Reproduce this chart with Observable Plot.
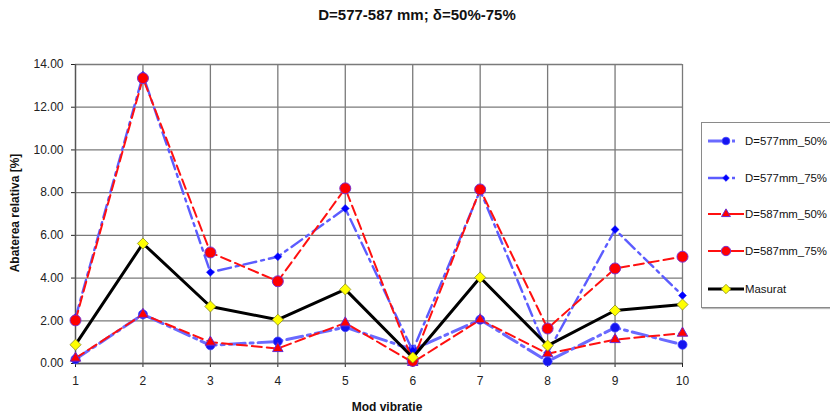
<!DOCTYPE html>
<html>
<head>
<meta charset="utf-8">
<script src="https://cdn.jsdelivr.net/npm/d3@7"></script>
<script src="https://cdn.jsdelivr.net/npm/@observablehq/plot@0.6"></script>
<style>
  html, body { margin: 0; padding: 0; background: #fff; overflow: hidden; }
  #wrap { position: relative; width: 830px; height: 416px; overflow: hidden; font-family: "Liberation Sans", Arial, sans-serif; }
  #title { position: absolute; left: 0; width: 834px; top: 6px; text-align: center; font-weight: bold; font-size: 15px; color: #111; }
  #xlab { position: absolute; left: 0; width: 774px; top: 400px; text-align: center; font-weight: bold; font-size: 12px; color: #111; }
  #ylab { position: absolute; left: 15px; top: 213px; transform: translate(-50%, -50%) rotate(-90deg); white-space: nowrap; font-weight: bold; font-size: 12px; color: #111; }
  #legend { position: absolute; left: 701px; top: 122px; width: 150px; height: 184px; border: 1px solid #8a8a8a; background: #fff; box-shadow: 1px 1px 1px #bbb; }
  .lrow { position: absolute; left: 6px; height: 14px; display: flex; align-items: center; font-size: 11.4px; color: #111; white-space: nowrap; }
  .lrow svg { margin-right: 1px; }
</style>
</head>
<body>
<div id="wrap">
  <div id="chart"></div>
  <div id="title">D=577-587 mm; δ=50%-75%</div>
  <div id="xlab">Mod vibratie</div>
  <div id="ylab">Abaterea relativa [%]</div>
  <div id="legend"></div>
</div>
<script>
const modes = [1, 2, 3, 4, 5, 6, 7, 8, 9, 10];
const yTicks = [0, 2, 4, 6, 8, 10, 12, 14];
const seriesNames = ["D=577mm_50%", "D=577mm_75%", "D=587mm_50%", "D=587mm_75%", "Masurat"];
const d577_50 = [0.20, 2.30, 0.85, 1.03, 1.70, 0.65, 2.05, 0.10, 1.68, 0.88];
const d577_75 = [2.15, 13.50, 4.27, 5.00, 7.26, 0.60, 8.10, 0.50, 6.27, 3.18];
const d587_50 = [0.25, 2.30, 1.00, 0.70, 1.90, 0.05, 2.05, 0.46, 1.12, 1.42];
const d587_75 = [2.02, 13.36, 5.20, 3.85, 8.20, 0.12, 8.15, 1.64, 4.45, 5.00];
const masurat = [0.88, 5.62, 2.67, 2.05, 3.47, 0.28, 4.03, 0.84, 2.48, 2.76];

const styles = [
  {line: {stroke: "#6a6aff", strokeWidth: 3, strokeDasharray: "16,5,3,5"}, dot: {symbol: "circle", r: 4.5, fill: "#1515f0", stroke: "#4040ff", strokeWidth: 0.8}},
  {line: {stroke: "#5c5cff", strokeWidth: 2.4, strokeDasharray: "13,5,3,5"}, dot: {symbol: "diamond2", r: 3.6, fill: "#0000ff", stroke: "#2020ff", strokeWidth: 0.5}},
  {line: {stroke: "#ff1010", strokeWidth: 2, strokeDasharray: "10,5"}, dot: {symbol: "triangle2", r: 5, fill: "#ff0000", stroke: "#6a2ad0", strokeWidth: 1}},
  {line: {stroke: "#ff1010", strokeWidth: 2, strokeDasharray: "10,5"}, dot: {symbol: "circle", r: 5.5, fill: "#ff0000", stroke: "#7a30d0", strokeWidth: 1}},
  {line: {stroke: "#000000", strokeWidth: 3}, dot: {symbol: "diamond2", r: 5, fill: "#ffff00", stroke: "#8a8a20", strokeWidth: 0.8}}
];
const seriesValues = [d577_50, d577_75, d587_50, d587_75, masurat];

const marks = [
  Plot.gridX(modes, {stroke: "#7a7a7a", strokeOpacity: 1, strokeWidth: 1.3}),
  Plot.gridY(yTicks, {stroke: "#7a7a7a", strokeOpacity: 1, strokeWidth: 1.3}),
  Plot.ruleX([1], {stroke: "#555", strokeWidth: 1.3}),
  Plot.ruleY([0], {stroke: "#555", strokeWidth: 1.3})
];
seriesValues.forEach((vals, i) => {
  const data = modes.map((m, j) => ({mode: m, value: vals[j]}));
  marks.push(Plot.line(data, {x: "mode", y: "value", ...styles[i].line}));
  marks.push(Plot.dot(data, {x: "mode", y: "value", ...styles[i].dot}));
});

const chart = Plot.plot({
  width: 830,
  height: 416,
  marginLeft: 75,
  marginRight: 148,
  marginTop: 64,
  marginBottom: 53,
  style: {fontFamily: "'Liberation Sans', Arial, sans-serif", fontSize: "12px", color: "#222", background: "#fff"},
  x: {domain: [1, 10], ticks: modes, tickFormat: d => String(d), tickSize: 4, tickPadding: 9, label: null},
  y: {domain: [0, 14], ticks: yTicks, tickFormat: d => d.toFixed(2), tickSize: 4, tickPadding: 8, label: null},
  marks
});
document.getElementById("chart").appendChild(chart);

// legend
const legend = document.getElementById("legend");
const rowTops = [11, 48, 84, 121, 159];
seriesNames.forEach((name, i) => {
  const row = document.createElement("div");
  row.className = "lrow";
  row.style.top = rowTops[i] + "px";
  const svg = d3.create("svg").attr("width", 36).attr("height", 14);
  const st = styles[i];
  svg.append("line").attr("x1", 0).attr("x2", 36).attr("y1", 7).attr("y2", 7)
    .attr("stroke", st.line.stroke).attr("stroke-width", st.line.strokeWidth)
    .attr("stroke-dasharray", i < 2 ? "17,7,3,9" : (i < 4 ? "13,3,20" : null));
  const sym = {circle: d3.symbolCircle, diamond2: d3.symbolDiamond2, triangle2: d3.symbolTriangle2}[st.dot.symbol];
  const size = Math.PI * (st.dot.r * 0.85) ** 2;
  svg.append("path").attr("d", d3.symbol(sym, size)()).attr("transform", "translate(18,7)")
    .attr("fill", st.dot.fill).attr("stroke", st.dot.stroke).attr("stroke-width", st.dot.strokeWidth);
  row.appendChild(svg.node());
  const t = document.createElement("span");
  t.textContent = name;
  row.appendChild(t);
  legend.appendChild(row);
});
</script>
</body>
</html>
